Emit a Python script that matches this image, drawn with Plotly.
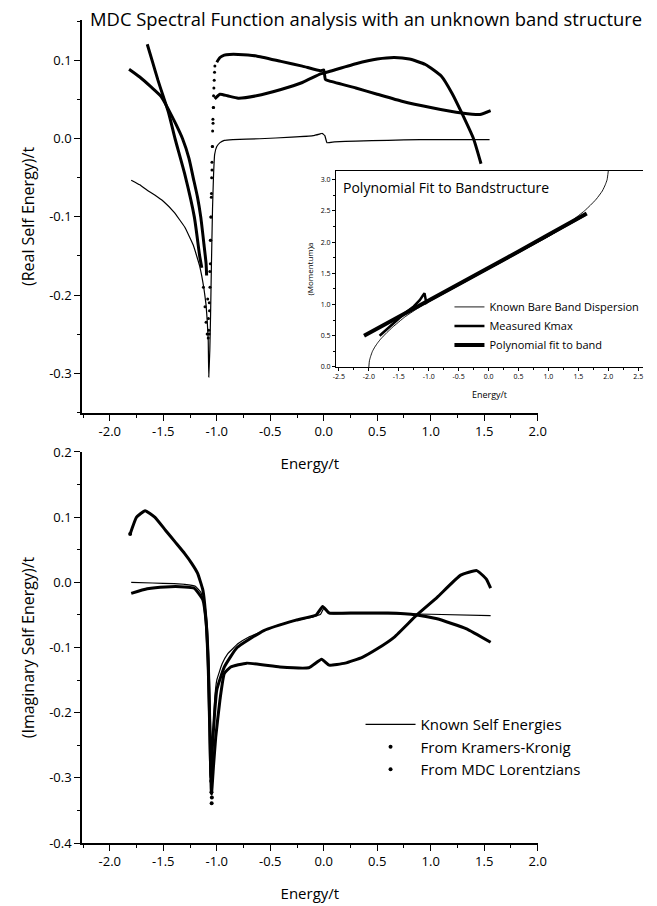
import plotly.graph_objects as go

# ---------------- data: real part (top panel) ----------------
known_re_E = [-1.80, -1.72, -1.65, -1.58, -1.50, -1.40, -1.30, -1.22, -1.16, -1.12, -1.10, -1.09, -1.08, -1.075,
              -1.065, -1.058, -1.05, -1.04, -1.03, -1.02, -1.00, -0.97, -0.93, -0.85, -0.6, -0.3,
              -0.1, -0.04, -0.015, 0.01, 0.03, 0.1, 0.3, 0.6, 0.9, 1.2, 1.55]
known_re_v = [-0.053, -0.059, -0.066, -0.072, -0.080, -0.094, -0.113, -0.136, -0.163, -0.192, -0.213, -0.232,
              -0.258, -0.305, -0.270, -0.225, -0.160, -0.090, -0.045, -0.020, -0.010, -0.005, -0.002, -0.001,
              0.000, 0.002, 0.004, 0.006, 0.007, 0.004, -0.005, -0.004, -0.003, -0.002, -0.001, -0.001, -0.001]

kk_re_left_E = [-1.82, -1.72, -1.62, -1.52, -1.45, -1.38, -1.32, -1.26, -1.22, -1.18, -1.15, -1.12, -1.10, -1.095]
kk_re_left_v = [0.089, 0.079, 0.067, 0.054, 0.037, 0.018, 0.000, -0.025, -0.050, -0.075, -0.100, -0.135, -0.160, -0.175]
kk_re_right_E = [-1.00, -0.97, -0.93, -0.88, -0.80, -0.63, -0.40, -0.20, -0.03, 0.00, 0.015, 0.05, 0.30,
                 0.50, 0.73, 1.00, 1.29, 1.46, 1.56]
kk_re_right_v = [0.098, 0.104, 0.107, 0.108, 0.108, 0.106, 0.099, 0.093, 0.087, 0.088, 0.076, 0.074, 0.065,
                 0.057, 0.048, 0.040, 0.033, 0.031, 0.036]
kk_re_dots_E = [-1.085, -1.078, -1.072, -1.068, -1.064, -1.060, -1.057, -1.054, -1.051, -1.048,
                -1.045, -1.042, -1.039, -1.036, -1.033, -1.030, -1.027, -1.024, -1.021, -1.018]
kk_re_dots_v = [-0.205, -0.230, -0.250, -0.220, -0.190, -0.160, -0.130, -0.100, -0.075, -0.050,
                -0.030, -0.010, 0.010, 0.025, 0.040, 0.055, 0.065, 0.075, 0.085, 0.093]

mdc_re_left_E = [-1.65, -1.60, -1.55, -1.50, -1.45, -1.39, -1.30, -1.21, -1.16, -1.14]
mdc_re_left_v = [0.121, 0.098, 0.075, 0.054, 0.033, 0.000, -0.045, -0.100, -0.150, -0.165]
mdc_re_right_E = [-1.02, -0.97, -0.90, -0.80, -0.63, -0.40, -0.20, -0.03, 0.00, 0.05, 0.30, 0.50, 0.66,
                  0.80, 0.95, 1.10, 1.20, 1.29, 1.40, 1.47]
mdc_re_right_v = [0.051, 0.057, 0.055, 0.052, 0.055, 0.063, 0.072, 0.083, 0.084, 0.086, 0.096, 0.102, 0.104,
                  0.102, 0.095, 0.080, 0.058, 0.033, 0.000, -0.032]
mdc_re_dots_E = [-1.125, -1.11, -1.10, -1.09, -1.08, -1.075, -1.07, -1.065, -1.06, -1.055, -1.05,
                 -1.045, -1.04, -1.035, -1.03]
mdc_re_dots_v = [-0.190, -0.215, -0.235, -0.250, -0.255, -0.245, -0.210, -0.170, -0.130, -0.100,
                 -0.070, -0.040, -0.010, 0.020, 0.040]

# ---------------- data: imaginary part (bottom panel) ----------------
known_im_E = [-1.80, -1.60, -1.40, -1.30, -1.20, -1.15, -1.12, -1.10, -1.08, -1.065, -1.05, -1.04, -1.02,
              -1.00, -0.95, -0.90, -0.80, -0.70, -0.50, -0.30, -0.10, -0.03, 0.00, 0.05, 0.20, 0.50,
              1.00, 1.56]
known_im_v = [0.000, -0.001, -0.002, -0.003, -0.006, -0.015, -0.030, -0.060, -0.120, -0.220, -0.320, -0.250,
              -0.180, -0.150, -0.125, -0.110, -0.094, -0.084, -0.070, -0.060, -0.053, -0.049, -0.040, -0.048,
              -0.048, -0.048, -0.049, -0.051]

kk_im_E = [-1.80, -1.65, -1.48, -1.30, -1.21, -1.13, -1.10, -1.08, -1.065, -1.055, -1.04, -1.02, -1.00,
           -0.93, -0.81, -0.56, -0.26, -0.07, -0.01, 0.05, 0.30, 0.60, 0.87, 1.06, 1.33, 1.56]
kk_im_v = [-0.017, -0.010, -0.007, -0.007, -0.009, -0.027, -0.060, -0.120, -0.220, -0.300, -0.250, -0.200,
           -0.165, -0.130, -0.100, -0.074, -0.058, -0.050, -0.037, -0.047, -0.047, -0.047, -0.050, -0.056,
           -0.071, -0.092]
kk_im_dots_E = [-1.052, -1.050, -1.048]
kk_im_dots_v = [-0.305, -0.322, -0.339]

mdc_im_E = [-1.81, -1.75, -1.67, -1.58, -1.48, -1.39, -1.30, -1.23, -1.18, -1.13, -1.10, -1.08, -1.065,
            -1.05, -1.03, -1.01, -0.97, -0.93, -0.87, -0.72, -0.41, -0.14, -0.02, 0.05, 0.20, 0.36, 0.50,
            0.66, 0.87, 1.06, 1.28, 1.43, 1.52, 1.56]
mdc_im_v = [0.074, 0.100, 0.110, 0.100, 0.080, 0.062, 0.044, 0.028, 0.014, -0.012, -0.060, -0.130, -0.230,
            -0.325, -0.280, -0.238, -0.180, -0.140, -0.130, -0.124, -0.130, -0.131, -0.118, -0.127, -0.124,
            -0.115, -0.102, -0.084, -0.050, -0.023, 0.011, 0.018, 0.005, -0.009]
mdc_im_dots_E = [-1.81, -1.046]
mdc_im_dots_v = [0.074, -0.330]

# ---------------- data: inset (band structure) ----------------
bare_E = [-2.00, -1.99, -1.97, -1.94, -1.90, -1.85, -1.80, -1.70, -1.60, -1.40, -1.20, -1.00, -0.60, -0.20,
          0.20, 0.60, 1.00, 1.20, 1.40, 1.60, 1.70, 1.80, 1.90, 1.95, 1.98, 2.00]
bare_k = [0.00, 0.10, 0.17, 0.25, 0.32, 0.39, 0.45, 0.55, 0.64, 0.80, 0.93, 1.05, 1.27, 1.47,
          1.67, 1.88, 2.09, 2.21, 2.35, 2.50, 2.59, 2.69, 2.82, 2.92, 3.00, 3.14]
kmax_E = [-1.82, -1.70, -1.55, -1.40, -1.25, -1.15, -1.10, -1.07, -1.04, -1.00, -0.50, 0.00, 0.50, 1.00, 1.50, 1.62]
kmax_k = [0.50, 0.60, 0.74, 0.86, 0.97, 1.07, 1.14, 1.18, 1.03, 1.06, 1.32, 1.59, 1.85, 2.11, 2.38, 2.44]
fit_E = [-2.08, -1.50, -1.00, -0.50, 0.00, 0.50, 1.00, 1.64]
fit_k = [0.50, 0.80, 1.06, 1.33, 1.59, 1.85, 2.12, 2.46]

x_ticks = [-2.0, -1.5, -1.0, -0.5, 0.0, 0.5, 1.0, 1.5, 2.0]
x_ticktext = ["-2.0", "-1.5", "-1.0", "-0.5", "0.0", "0.5", "1.0", "1.5", "2.0"]
re_ticks = [-0.3, -0.2, -0.1, 0.0, 0.1]
re_ticktext = ["-0.3", "-0.2", "-0.1", "0.0", "0.1"]
im_ticks = [-0.4, -0.3, -0.2, -0.1, 0.0, 0.1, 0.2]
im_ticktext = ["-0.4", "-0.3", "-0.2", "-0.1", "0.0", "0.1", "0.2"]
in_x_ticks = [-2.5, -2.0, -1.5, -1.0, -0.5, 0.0, 0.5, 1.0, 1.5, 2.0, 2.5]
in_x_ticktext = ["-2.5", "-2.0", "-1.5", "-1.0", "-0.5", "0.0", "0.5", "1.0", "1.5", "2.0", "2.5"]
in_y_ticks = [0.0, 0.5, 1.0, 1.5, 2.0, 2.5, 3.0]
in_y_ticktext = ["0.0", "0.5", "1.0", "1.5", "2.0", "2.5", "3.0"]

FONT = "Open Sans"
BLK = "black"

fig = go.Figure()

def line(x, y, xa, ya, w, name=None, legend=None, show=False, smooth=0.0):
    ln = dict(color=BLK, width=w)
    if smooth > 0:
        ln.update(shape="spline", smoothing=smooth)
    fig.add_trace(go.Scatter(x=x, y=y, mode="lines", xaxis=xa, yaxis=ya,
                             line=ln, name=name,
                             showlegend=show, legend=legend, hoverinfo="skip"))

def dots(x, y, xa, ya, size, name=None, show=False):
    fig.add_trace(go.Scatter(x=x, y=y, mode="markers", xaxis=xa, yaxis=ya,
                             marker=dict(color=BLK, size=size), name=name,
                             showlegend=show, hoverinfo="skip"))

# top panel
line(known_re_E, known_re_v, "x", "y", 1.2, smooth=0.3)
line(kk_re_left_E, kk_re_left_v, "x", "y", 3, smooth=0.6)
line(kk_re_right_E, kk_re_right_v, "x", "y", 3, smooth=0.4)
line(mdc_re_left_E, mdc_re_left_v, "x", "y", 3, smooth=0.6)
line(mdc_re_right_E, mdc_re_right_v, "x", "y", 3, smooth=0.5)
dots(kk_re_dots_E, kk_re_dots_v, "x", "y", 3)
dots(mdc_re_dots_E, mdc_re_dots_v, "x", "y", 3)

# bottom panel
line(known_im_E, known_im_v, "x2", "y2", 1.2, name="Known Self Energies", show=True, smooth=0.3)
line(kk_im_E, kk_im_v, "x2", "y2", 3, smooth=0.4)
line(mdc_im_E, mdc_im_v, "x2", "y2", 3, smooth=0.4)
dots(kk_im_dots_E, kk_im_dots_v, "x2", "y2", 4, name="From Kramers-Kronig", show=True)
dots(mdc_im_dots_E, mdc_im_dots_v, "x2", "y2", 4, name="From MDC Lorentzians", show=True)

# inset
line(bare_E, bare_k, "x3", "y3", 0.9, name="Known Bare Band Dispersion", legend="legend2", show=True, smooth=0.5)
line(kmax_E, kmax_k, "x3", "y3", 2.5, name="Measured Kmax", legend="legend2", show=True)
line(fit_E, fit_k, "x3", "y3", 4, name="Polynomial fit to band", legend="legend2", show=True)

tickfont = dict(family=FONT, size=13, color=BLK)
axis_common = dict(showline=True, linecolor=BLK, linewidth=1.5, ticks="outside", ticklen=6,
                   tickwidth=1.3, tickcolor=BLK, showgrid=False, zeroline=False, tickfont=tickfont)

xmain = dict(axis_common, range=[-2.26, 2.0], tickmode="array", tickvals=x_ticks, ticktext=x_ticktext,
             minor=dict(dtick=0.25, tick0=0, ticks="outside", ticklen=3, tickcolor=BLK, showgrid=False))

fig.update_layout(
    width=657, height=906,
    margin=dict(l=82, r=5, t=20, b=63),
    paper_bgcolor="white", plot_bgcolor="rgba(0,0,0,0)",
    font=dict(family=FONT, color=BLK),
    xaxis=dict(xmain, domain=[0, 0.8123], anchor="y",
               title=dict(text="Energy/t", font=dict(family=FONT, size=15), standoff=19)),
    yaxis=dict(axis_common, domain=[0.5225, 1.0], anchor="x", range=[-0.351, 0.152],
               tickmode="array", tickvals=re_ticks, ticktext=re_ticktext,
               minor=dict(dtick=0.05, tick0=0, ticks="outside", ticklen=3, tickcolor=BLK, showgrid=False),
               title=dict(text="(Real Self Energy)/t", font=dict(family=FONT, size=16), standoff=11)),
    xaxis2=dict(xmain, domain=[0, 0.8123], anchor="y2",
                title=dict(text="Energy/t", font=dict(family=FONT, size=15), standoff=19)),
    yaxis2=dict(axis_common, domain=[0, 0.4751], anchor="x2", range=[-0.4, 0.2],
                tickmode="array", tickvals=im_ticks, ticktext=im_ticktext,
                minor=dict(dtick=0.05, tick0=0, ticks="outside", ticklen=3, tickcolor=BLK, showgrid=False),
                title=dict(text="(Imaginary Self Energy)/t", font=dict(family=FONT, size=16), standoff=11)),
    xaxis3=dict(showline=True, mirror=True, linecolor=BLK, linewidth=1, ticks="outside", ticklen=3,
                tickcolor=BLK, showgrid=False, zeroline=False, domain=[0.4526, 1.0], anchor="y3",
                range=[-2.55, 2.58], tickmode="array", tickvals=in_x_ticks, ticktext=in_x_ticktext,
                tickfont=dict(family=FONT, size=7),
                minor=dict(dtick=0.25, tick0=0, ticks="outside", ticklen=2, tickcolor=BLK, showgrid=False),
                title=dict(text="Energy/t", font=dict(family=FONT, size=9), standoff=11)),
    yaxis3=dict(showline=True, linecolor=BLK, linewidth=1, ticks="outside", ticklen=3, tickcolor=BLK,
                showgrid=False, zeroline=False, domain=[0.5784, 0.8165], anchor="x3",
                range=[0, 3.14], tickmode="array", tickvals=in_y_ticks, ticktext=in_y_ticktext,
                tickfont=dict(family=FONT, size=7),
                minor=dict(dtick=0.25, tick0=0, ticks="outside", ticklen=2, tickcolor=BLK, showgrid=False),
                title=dict(text="(Momentum)a", font=dict(family=FONT, size=8), standoff=5)),
    legend=dict(x=0.4965, y=0.164, xanchor="left", yanchor="top", bgcolor="rgba(0,0,0,0)",
                font=dict(family=FONT, size=15), itemwidth=50, tracegroupgap=0),
    legend2=dict(x=0.655, y=0.669, xanchor="left", yanchor="top", bgcolor="rgba(0,0,0,0)",
                 font=dict(family=FONT, size=11), itemwidth=30, tracegroupgap=0),
    annotations=[
        dict(text="MDC Spectral Function analysis with an unknown band structure", xref="paper", yref="paper",
             x=0.0105, y=1.002, xanchor="left", yanchor="middle", showarrow=False,
             font=dict(family=FONT, size=18.4, color=BLK)),
        dict(text="Polynomial Fit to Bandstructure", xref="paper", yref="paper",
             x=0.462, y=0.7965, xanchor="left", yanchor="middle", showarrow=False,
             font=dict(family=FONT, size=14, color=BLK)),
    ],
)

fig.write_html("out.html")
